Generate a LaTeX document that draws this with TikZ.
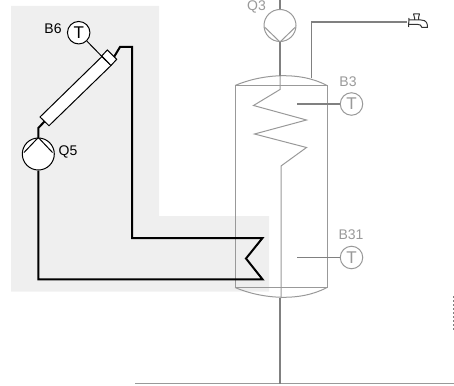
\documentclass[tikz,border=0pt]{standalone}
\usepackage{fontspec}
\setmainfont{Liberation Sans}
\definecolor{bgc}{HTML}{EFEFEF}
\definecolor{gry}{HTML}{808080}
\definecolor{lgry}{HTML}{999999}
\tikzset{
 lab/.style={inner sep=0pt,font=\fontsize{14}{14}\selectfont},
 glab/.style={lab,text=lgry},
 blk/.style={draw=black,line width=2pt,line join=miter},
 thin blk/.style={draw=black,line width=1pt},
 gpipe/.style={draw=gry,line width=1.7pt},
 gthin/.style={draw=lgry,line width=1pt},
 sensor/.style={circle,draw,line width=1pt,fill=white,minimum size=22.5pt,inner sep=0pt,font=\fontsize{17}{17}\selectfont},
 pump/.style={circle,draw,line width=1pt,fill=white,minimum size=32pt,inner sep=0pt},
}
\begin{document}
\begin{tikzpicture}[x=1pt,y=-1pt]
\useasboundingbox (0,0) rectangle (454,385);
\fill[bgc] (11,6) -- (159,6) -- (159,216) -- (269,216) -- (269,291.5) -- (11,291.5) -- cycle;
% ground line and flow pipe
\coordinate (g1) at (135,383.5); \coordinate (g2) at (454,383.5);
\draw[gthin,line width=1.2pt] (g1) -- (g2);
% tank
\coordinate (tl) at (235,85.5); \coordinate (tr) at (327,85.5);
\coordinate (bl) at (235,287.5); \coordinate (br) at (327,287.5);
\draw[gthin] (tl) -- (bl) (tr) -- (br) (tl) -- (tr) (bl) -- (br);
\draw[gthin] (tl) .. controls (262,74) and (300,71) .. (tr);
\draw[gthin] (bl) .. controls (262,299) and (300,302) .. (br);
% Q3 pump and coil
\coordinate (qtop) at (280,0);
\node[pump,draw=lgry] (q3) at (280,25.5) {};
\draw[gthin] (264.5,27) -- (q3.south) -- (295.5,27);
\draw[gpipe] (qtop) -- (q3.north);
\draw[gpipe] (q3.south) -- (280,76);
\draw[gthin] (280,76) -- (280,89.5) -- (253.5,105.5) -- (306.5,120) -- (254.5,134) -- (306.5,147.5) -- (281,166) -- (281,298);
\draw[gpipe] (280,298) -- (280,383.5);
% hot water
\coordinate (hw0) at (311.5,78); \coordinate (hw1) at (311.5,22); \coordinate (hw2) at (407,22);
\draw[gpipe] (hw0) -- (hw1) -- (hw2);
% faucet
\draw[draw=black!80,line width=1pt,line join=round] (409,18) -- (408.5,27) (409,20) -- (421,20) .. controls (427,20) and (427.5,24) .. (427.5,27.5) -- (422,27.5) .. controls (421,25) and (420,24.5) .. (418,24.5) -- (409,24.5)
 (414.5,20) -- (414.5,17.5) -- (413.5,14) -- (419.5,14) -- (418.5,17.5) -- (418.5,20);
% sensors
\node[sensor,draw=lgry,text=lgry] (b3) at (351.5,104) {T};
\coordinate (b3p) at (297,104);
\draw[gpipe] (b3p) -- (b3);
\node[glab] (b3l) at (348,81.5) {B3};
\node[sensor,draw=lgry,text=lgry] (b31) at (351.5,257.5) {T};
\coordinate (b31p) at (297,257.5);
\draw[gpipe] (b31p) -- (b31);
\node[glab] (b31l) at (351,234.5) {B31};
\node[glab] (q3l) at (256.5,7) {Q3};
% solar circuit
\coordinate (ca) at (44.5,121.5); \coordinate (cb) at (114,57);
\node[pump,draw=black] (q5) at (38.3,154) {};
\draw[thin blk] (24,152.5) -- (q5.north) -- (52.5,152.5);
\draw[blk] (q5.north) -- (38.3,128) -- (ca);
\draw[blk] (cb) -- (120,47) -- (132,47) -- (132,238) -- (262.5,238) -- (246,258.5) -- (262.5,279.3) -- (38.3,279.3) -- (q5.south);
\draw[thin blk,fill=white] (40,117) -- (102,56.5) -- (111,65.5) -- (49,125.7) -- cycle;
\draw[thin blk,fill=white] (101.7,56) -- (107.3,50) -- (116.7,59.3) -- (111,65.5) -- cycle;
\node[sensor,draw=black,text=black] (b6) at (78.7,32.7) {T};
\coordinate (b6p) at (106,60.7);
\draw[thin blk] (b6) -- (b6p);
\node[lab] (b6l) at (53,29) {B6};
\node[lab] (q5l) at (68,152) {Q5};
% edge dashes
\coordinate (d1) at (453.3,296); \coordinate (d2) at (453.3,330);
\draw[draw=gry,line width=1pt,dash pattern=on 2pt off 2pt] (d1) -- (d2);
\end{tikzpicture}
\end{document}
